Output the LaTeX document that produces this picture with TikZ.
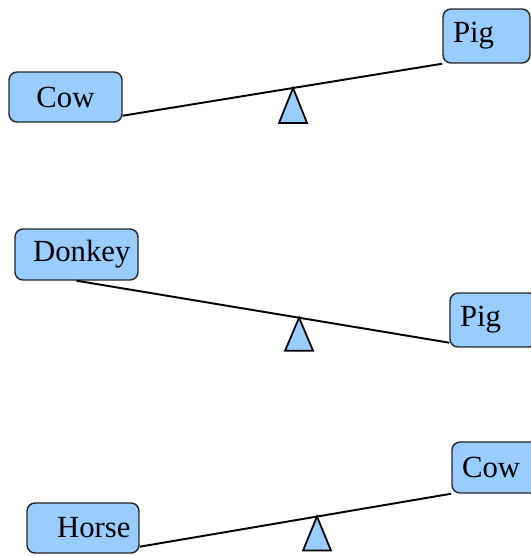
\documentclass[tikz,border=0pt]{standalone}
\usepackage{fontspec}
\setmainfont{Liberation Serif}
\usepackage{tikz}

\definecolor{boxblue}{RGB}{153,204,255}
\tikzset{
    animal/.style={draw=black!85,fill=boxblue,rounded corners=0.16cm,line width=0.8pt,
        inner xsep=0.2cm,inner ysep=0pt,minimum height=1cm,font=\fontsize{17.5}{20}\selectfont},
    plank/.style={line width=1.1pt},
    pivot/.style={draw=black,fill=boxblue,line width=1pt}
}

\begin{document}
\begin{tikzpicture}[x=0.02cm,y=-0.02cm]
    \clip (0,0) rectangle (531,556);

    % nodes
    \node[animal,minimum width=2.26cm] (cow1) at (65.5,97) {Cow};
    \node[animal,minimum height=1.08cm,text width=1.34cm,align=left] (pig1) at (486.5,36) {Pig};

    \node[animal,minimum height=1.02cm,text width=2.16cm,align=right,inner xsep=0.15cm] (donkey) at (76.5,254.5) {Donkey};
    \node[animal,minimum height=1.08cm,text width=1.34cm,align=left] (pig2) at (493.5,320) {Pig};

    \node[animal,text width=1.9cm,align=right,inner xsep=0.17cm] (horse) at (83,528) {Horse};
    \node[animal,minimum height=1.02cm,text width=1.86cm,align=left] (cow3) at (508.5,467.5) {Cow};

    % planks
    \draw[plank] ([yshift=0.14cm]cow1.south east) -- coordinate[pos=0.533] (tip1) (pig1.south west);
    \draw[plank] (donkey.south) -- coordinate[pos=0.597] (tip2) ([yshift=0.1cm]pig2.south west);
    \draw[plank] ([yshift=0.14cm]horse.south east) -- coordinate[pos=0.569] (tip3) (cow3.south west);

    % pivots
    \draw[pivot] (tip1) -- ++(-14,35) -- ++(28,0) -- cycle;
    \draw[pivot] (tip2) -- ++(-14,33) -- ++(28,0) -- cycle;
    \draw[pivot] (tip3) -- ++(-14,34) -- ++(28,0) -- cycle;
\end{tikzpicture}
\end{document}
